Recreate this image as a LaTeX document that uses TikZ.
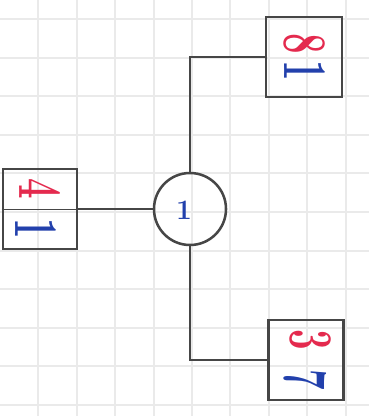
\documentclass[tikz,border=0pt]{standalone}
\usepackage{tikz}
\usetikzlibrary{positioning, calc}
\definecolor{pencil}{RGB}{70,70,70}
\definecolor{inkred}{RGB}{228,42,78}
\definecolor{inkblue}{RGB}{34,64,172}
\definecolor{gridgray}{RGB}{234,234,234}

\begin{document}
\begin{tikzpicture}[x=0.025cm, y=-0.025cm]
  \tikzstyle{leafbox} = [rectangle, draw=pencil, line width=2.1pt, minimum width=1.9cm, minimum height=2cm, inner sep=0pt]
  \tikzstyle{rootnode} = [circle, draw=pencil, line width=1.8pt, minimum size=1.8cm, inner sep=0pt]
  \tikzstyle{reddigit} = [text=inkred, font=\fontsize{26}{26}\bfseries\selectfont, rotate=-90, yscale=1.7, inner sep=0pt]
  \tikzstyle{bluedigit} = [text=inkblue, font=\fontsize{26}{26}\bfseries\selectfont, rotate=-90, yscale=1.7, inner sep=0pt]
  \tikzstyle{edge} = [draw=pencil, line width=2.1pt]

  \useasboundingbox (0,0) rectangle (369,416);
  \fill[white] (0,0) rectangle (369,416);
  % squared paper
  \foreach \i in {1,...,9} \draw[gridgray, line width=1.5pt] (38.4*\i,0) -- (38.4*\i,416);
  \foreach \i in {0,...,10} \draw[gridgray, line width=1.5pt] (0,19+38.6*\i) -- (369,19+38.6*\i);

  \node [rootnode] (root) at (190, 209) {};
  \node [leafbox] (topbox) at (304, 57) {};
  \node [leafbox, minimum width=1.85cm] (leftbox) at (40, 209) {};
  \node [leafbox, minimum width=1.875cm] (botbox) at (306, 360) {};

  \node [text=inkblue, font=\fontsize{20}{20}\bfseries\selectfont] (rootkey) at (184, 210) {1};
  \node [reddigit] (topkey) at (305, 44) {8};
  \node [bluedigit] (topval) at (305, 71) {1};
  \node [reddigit] (leftkey) at (40, 189) {4};
  \node [bluedigit] (leftval) at (36, 229) {1};
  \node [reddigit] (botkey) at (311, 340) {3};
  \node [bluedigit] (botval) at (305, 380) {7};

  \draw [pencil, line width=0.6pt] (leftbox.west) -- (leftbox.east);
  \draw [edge] (leftbox.east) -- (root.west);
  \draw [edge] (root.north) |- (topbox.west);
  \draw [edge] (root.south) |- (botbox.west);
\end{tikzpicture}
\end{document}
